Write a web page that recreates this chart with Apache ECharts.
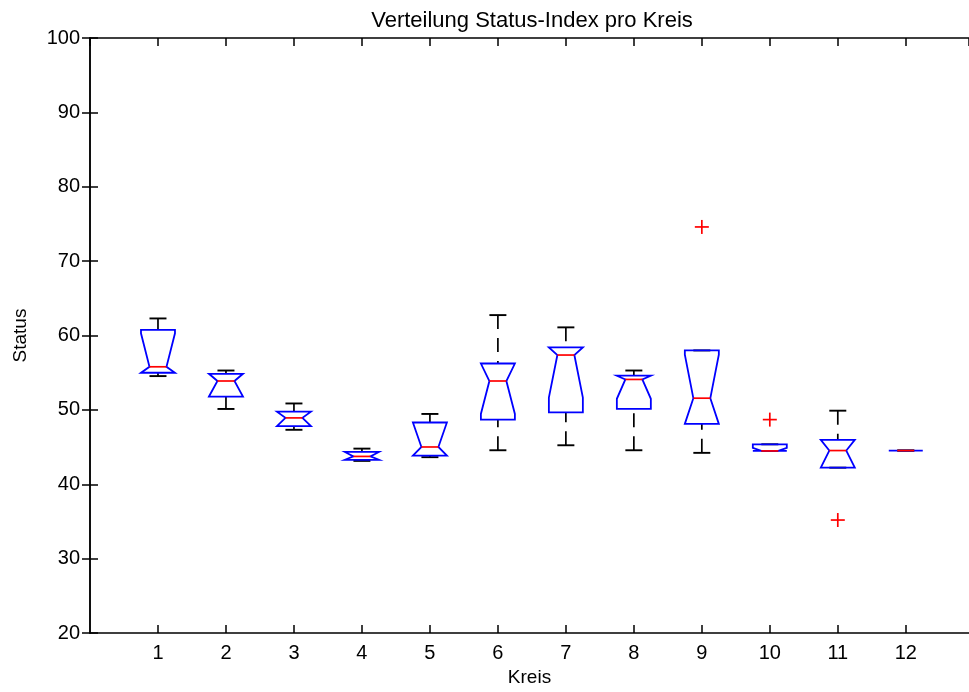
<!DOCTYPE html>
<html>
<head>
<meta charset="utf-8">
<script src="https://cdn.jsdelivr.net/npm/echarts@6/dist/echarts.min.js"></script>
<style>
html,body{margin:0;padding:0;background:#fff;overflow:hidden;}
#chart{width:969px;height:692px;}
</style>
</head>
<body>
<div id="chart"></div>
<script>
// ---- data ----
const categories   = [1, 2, 3, 4, 5, 6, 7, 8, 9, 10, 11, 12];
const xTickLabels  = ['1','2','3','4','5','6','7','8','9','10','11','12'];
const whiskerLow   = [54.55, 50.13, 47.33, 43.15, 43.65, 44.58, 45.25, 44.58, 44.23, 44.49, 42.24, 44.54];
const quartile1    = [55.00, 51.80, 47.82, 43.30, 43.87, 48.70, 49.68, 50.13, 48.13, 44.49, 42.24, 44.54];
const notchLow     = [51.30, 51.50, 47.60, 43.00, 41.00, 49.46, 51.67, 51.50, 45.70, 44.10, 41.00, 44.54];
const medianVals   = [55.80, 53.89, 48.93, 43.75, 45.02, 53.89, 57.38, 54.10, 51.58, 44.49, 44.54, 44.54];
const notchHigh    = [60.30, 56.30, 50.30, 44.50, 49.00, 58.30, 63.10, 56.70, 57.43, 44.90, 48.00, 44.54];
const quartile3    = [60.75, 54.86, 49.77, 44.35, 48.31, 56.24, 58.40, 54.60, 58.00, 45.38, 45.97, 44.54];
const whiskerHigh  = [62.30, 55.30, 50.87, 44.80, 49.46, 62.75, 61.10, 55.30, 58.00, 45.38, 49.90, 44.54];
const outlierCategory = [9, 10, 11];
const outlierValue    = [74.6, 48.7, 35.2];
const yTickValues  = [20, 30, 40, 50, 60, 70, 80, 90, 100];

// ---- chart ----
const FONT = "'Liberation Sans', Arial, Helvetica, sans-serif";
const chart = echarts.init(document.getElementById('chart'), null, {renderer: 'canvas'});

const boxData = categories.map((c, i) => [c, whiskerLow[i], quartile1[i], notchLow[i], medianVals[i], notchHigh[i], quartile3[i], whiskerHigh[i]]);
const outlierData = outlierCategory.map((c, i) => [c, outlierValue[i]]);

const BLUE = '#0000ff', RED = '#ff0000', BLACK = '#000000';
const HALF_BOX = 0.25, HALF_NOTCH = 0.125, HALF_CAP = 0.125;

function renderBox(params, api) {
  const c = api.value(0);
  const wl = api.value(1), q1 = api.value(2), nl = api.value(3), md = api.value(4),
        nh = api.value(5), q3 = api.value(6), wh = api.value(7);
  const P = (dx, v) => api.coord([c + dx, v]);
  const n1 = Math.max(q1, Math.min(nl, md));
  const n2 = Math.min(q3, Math.max(nh, md));
  const children = [];
  const dash = [14, 9];
  if (wh > q3) {
    const a = P(0, wh), b = P(0, q3);
    children.push({type: 'line', shape: {x1: a[0], y1: a[1], x2: b[0], y2: b[1]},
      style: {stroke: BLACK, lineWidth: 1.7, lineDash: dash}});
  }
  if (wl < q1) {
    const a = P(0, wl), b = P(0, q1);
    children.push({type: 'line', shape: {x1: a[0], y1: a[1], x2: b[0], y2: b[1]},
      style: {stroke: BLACK, lineWidth: 1.7, lineDash: dash}});
  }
  [wh, wl].forEach(v => {
    const a = P(-HALF_CAP, v), b = P(HALF_CAP, v);
    children.push({type: 'line', shape: {x1: a[0], y1: a[1], x2: b[0], y2: b[1]},
      style: {stroke: BLACK, lineWidth: 1.9}});
  });
  const pts = [
    P(-HALF_BOX, q1), P(-HALF_BOX, n1), P(-HALF_NOTCH, md), P(-HALF_BOX, n2), P(-HALF_BOX, q3),
    P(HALF_BOX, q3), P(HALF_BOX, n2), P(HALF_NOTCH, md), P(HALF_BOX, n1), P(HALF_BOX, q1)
  ];
  children.push({type: 'polygon', shape: {points: pts},
    style: {fill: 'none', stroke: BLUE, lineWidth: 1.8}});
  const m1 = P(-HALF_NOTCH, md), m2 = P(HALF_NOTCH, md);
  children.push({type: 'line', shape: {x1: m1[0], y1: m1[1], x2: m2[0], y2: m2[1]},
    style: {stroke: RED, lineWidth: 1.7}});
  return {type: 'group', children};
}

function renderOutlier(params, api) {
  const p = api.coord([api.value(0), api.value(1)]);
  const s = 7;
  return {type: 'group', children: [
    {type: 'line', shape: {x1: p[0] - s, y1: p[1], x2: p[0] + s, y2: p[1]}, style: {stroke: RED, lineWidth: 1.7}},
    {type: 'line', shape: {x1: p[0], y1: p[1] - s, x2: p[0], y2: p[1] + s}, style: {stroke: RED, lineWidth: 1.7}}
  ]};
}

const axisLineStyle = {show: true, lineStyle: {color: BLACK, width: 1.5}};
const tickStyle = {show: true, inside: true, length: 8, lineStyle: {color: BLACK, width: 1.5}};
const xFmt = v => {
  const k = Math.round(v);
  if (Math.abs(v - k) > 1e-6) return '';
  const idx = categories.indexOf(k);
  return idx >= 0 ? xTickLabels[idx] : '';
};

chart.setOption({
  animation: false,
  backgroundColor: '#ffffff',
  textStyle: {fontFamily: FONT},
  title: {
    text: 'Verteilung Status-Index pro Kreis',
    left: 527, top: 5, textAlign: 'center',
    textStyle: {fontFamily: FONT, fontSize: 22, fontWeight: 'normal', color: BLACK}
  },
  grid: {left: 90, right: -2, top: 38, bottom: 52, containLabel: false},
  xAxis: [
    {
      type: 'value', min: 0, max: 12.93, interval: 1, position: 'bottom',
      name: 'Kreis', nameLocation: 'middle', nameGap: 30,
      nameTextStyle: {fontFamily: FONT, fontSize: 19, color: BLACK},
      axisLine: axisLineStyle, axisTick: tickStyle, splitLine: {show: false},
      axisLabel: {formatter: xFmt, margin: 10, fontFamily: FONT, fontSize: 20, color: BLACK,
                  showMinLabel: false, showMaxLabel: false}
    },
    {
      type: 'value', min: 0, max: 12.93, interval: 1, position: 'top',
      axisLine: axisLineStyle, axisTick: tickStyle, splitLine: {show: false},
      axisLabel: {show: false}
    }
  ],
  yAxis: [
    {
      type: 'value', min: yTickValues[0], max: yTickValues[yTickValues.length - 1], interval: 10, position: 'left',
      name: 'Status', nameLocation: 'middle', nameGap: 60, nameRotate: 90,
      nameTextStyle: {fontFamily: FONT, fontSize: 19, color: BLACK},
      axisLine: axisLineStyle, axisTick: tickStyle, splitLine: {show: false},
      axisLabel: {margin: 10, fontFamily: FONT, fontSize: 20, color: BLACK}
    },
    {
      type: 'value', min: yTickValues[0], max: yTickValues[yTickValues.length - 1], interval: 10, position: 'right',
      axisLine: axisLineStyle, axisTick: tickStyle, splitLine: {show: false},
      axisLabel: {show: false}
    }
  ],
  series: [
    {type: 'custom', name: 'box', xAxisIndex: 0, yAxisIndex: 0, renderItem: renderBox,
     encode: {x: 0, y: [1, 2, 3, 4, 5, 6, 7]}, data: boxData, clip: false},
    {type: 'custom', name: 'outliers', xAxisIndex: 0, yAxisIndex: 0, renderItem: renderOutlier,
     encode: {x: 0, y: 1}, data: outlierData, clip: false}
  ]
});
</script>
</body>
</html>
